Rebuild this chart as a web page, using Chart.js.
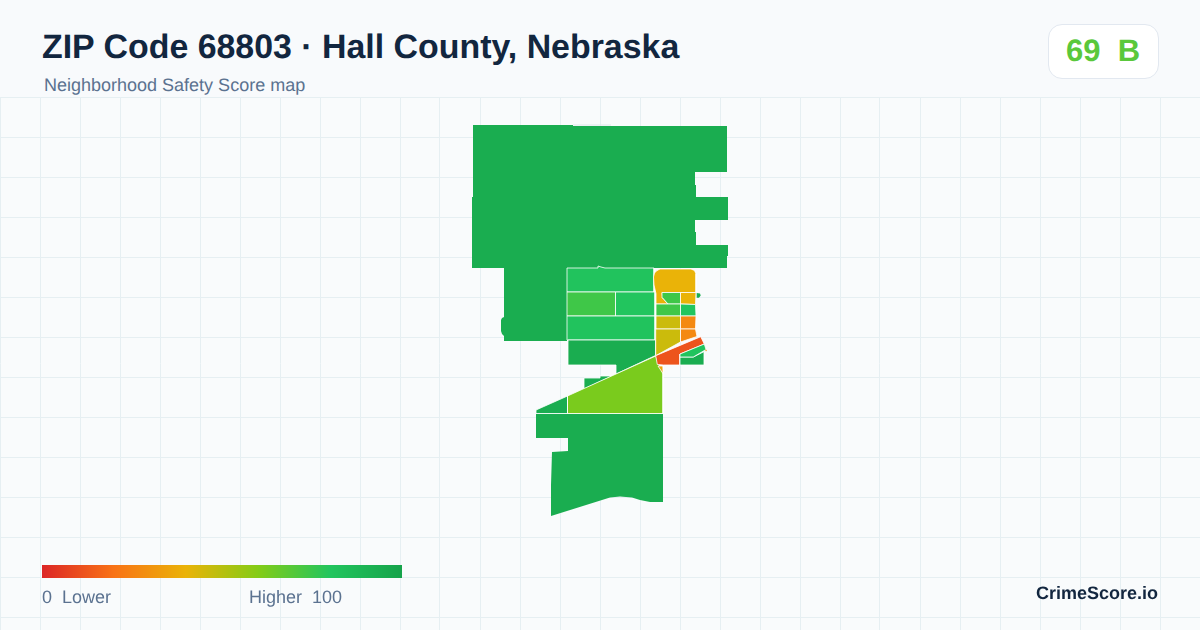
<!DOCTYPE html>
<html>
<head>
<meta charset="utf-8">
<title>ZIP Code 68803 · Hall County, Nebraska</title>
<script src="https://cdn.jsdelivr.net/npm/chart.js@4/dist/chart.umd.min.js"></script>
<style>
html,body{margin:0;padding:0;background:#f8fafc;}
body{width:1200px;height:630px;position:relative;overflow:hidden;font-family:"Liberation Sans",Arial,sans-serif;text-rendering:geometricPrecision;}
#wrap{position:absolute;left:0;top:97px;width:1200px;height:533px;background:#f9fbfc;}
.t{position:absolute;white-space:pre;}
#title{left:42px;top:27px;font-size:33.9px;line-height:40px;font-weight:700;color:#12263f;}
#sub{left:44px;top:75px;font-size:18px;line-height:20px;color:#5b7290;}
#badge{position:absolute;left:1048px;top:24px;width:109px;height:53px;background:#fff;border:1px solid #e2e8f0;border-radius:14px;}
#score{left:1066px;top:33px;font-size:31px;line-height:36px;font-weight:700;color:#5ac83c;}
#bar{position:absolute;left:42px;top:565px;width:360px;height:13px;background:linear-gradient(90deg,#dc2626 0%,#f97316 20%,#eab308 40%,#84cc16 60%,#22c55e 80%,#16a34a 100%);}
#lo{left:42px;top:587px;font-size:18px;line-height:20px;color:#5b7290;}
#hi{left:249px;top:587px;font-size:18px;line-height:20px;color:#5b7290;}
#brand{left:1036px;top:582px;font-size:18px;line-height:22px;font-weight:700;color:#12263f;}
</style>
</head>
<body>
<div id="wrap"><canvas id="c" width="1200" height="533"></canvas></div>
<div class="t" id="title">ZIP Code 68803 · Hall County, Nebraska</div>
<div class="t" id="sub">Neighborhood Safety Score map</div>
<div id="badge"></div>
<div class="t" id="score">69  B</div>
<div id="bar"></div>
<div class="t" id="lo">0  Lower</div>
<div class="t" id="hi">Higher  100</div>
<div class="t" id="brand">CrimeScore.io</div>
<script>
// Colour ramp of the score scale
const rampScores = [0, 20, 40, 60, 80, 100];
const rampColors = ['#dc2626', '#f97316', '#eab308', '#84cc16', '#22c55e', '#16a34a'];

// Tracts: outline in map units, score
const northBlock = [[473,125],[573,125],[573,126],[727,126],[727,172],[695,172],[695,185],[696,185],[696,197],[728,197],[728,220],[695,220],[695,232],[696,232],[696,245],[728,245],[728,256],[727,256],[727,268],[472,268],[472,197],[473,197]];
const westColumn = [[504,268],[567,268],[567,341],[536,341],[504,341],[504,336],[502,334],[501,331],[501,320],[502,318],[504,317]];
const rowOne = [[567,268],[598,268],[598,266],[601,267],[605,268],[654,268],[654,292],[567,292]];
const rowTwoWest = [[567,292],[615.5,292],[615.5,316],[567,316]];
const rowTwoEast = [[615.5,292],[655,292],[655,316],[615.5,316]];
const rowThree = [[567,316],[655,316],[655,340],[567,340]];
const rowFour = [[568,340],[655.5,340],[655.5,355.5],[616,374],[616,365],[568,365]];
const southStrip = [[584,378],[600,378],[600,376],[612,376],[584,389]];
const limeTract = [[655.7,356],[663,374],[663,413.5],[567.5,413.5],[567.5,396]];
const westWedge = [[536,410],[567.5,396],[567.5,413.5],[536,413.5]];
const southBlock = [[536,414],[663,414],[663,502],[650,502],[640,500],[632,497.5],[620,496.5],[610,497.5],[551,516],[551,485],[552,452],[568,451],[568,438],[536,438]];
const sliver = [[658,366],[663,366],[663.3,374]];
const yellowBlob = [[653.5,277],[654.5,273],[657,270.5],[660,269],[691,269],[694.5,270.5],[696,274],[696,292.5],[662,292.5],[662.7,298],[668,304],[656,304],[656,293.7],[654,285]];
const innerGreen = [[662,292.5],[680.5,292.5],[680.5,304],[668,304],[662.7,298]];
const innerYellow = [[680.5,292.5],[696,292.5],[695.5,304.5],[680.5,304]];
const midWest = [[656,304],[680.5,304],[680.5,316],[656,316]];
const midEast = [[680.5,304],[695.5,304.5],[696,316],[680.5,316]];
const oliveNorth = [[656,316],[680.5,316],[680.5,329],[656,329]];
const orangeNorth = [[680.5,316],[696,316],[695.5,329],[680.5,329]];
const oliveSouth = [[655.7,329],[680.5,329],[680.5,342],[655.7,355.7]];
const orangeSouth = [[680.5,329],[695.5,329],[697,336.5],[680.5,342]];
const redBand = [[655.7,355.7],[700.7,336.7],[704.3,344],[680,354],[680,365],[663.3,365],[657.3,364.5]];
const greenBand = [[680,354],[704.3,344],[706,349.5],[693.3,357],[680,357]];
const cornerBlock = [[680,357],[693.3,357],[704.3,351.5],[704.3,365],[680,365]];
const eastDot = [[696.7,293],[700,293.5],[700.7,295.5],[699,297.7],[696.7,297.7]];
const orangeTip = [[705,349.5],[707,350],[706,351.5]];
const northEdge = [[573,125],[611,125]];

const tractShapes = [northBlock, westColumn, rowOne, rowTwoWest, rowTwoEast, rowThree, rowFour, southStrip, limeTract, westWedge, southBlock, sliver, yellowBlob, innerGreen, innerYellow, midWest, midEast, oliveNorth, orangeNorth, oliveSouth, orangeSouth, redBand, cornerBlock, greenBand, eastDot, orangeTip];
const tractScores = [94, 94, 81, 74, 80, 81, 94, 94, 62, 94, 94, 35, 40, 74, 40, 74, 80, 46, 27, 46, 27, 12, 94, 81, 94, 30];
const unstroked = [northBlock, westColumn, southBlock, eastDot, orangeTip];

// Score → colour through the ramp
function hexRgb(h){return [1,3,5].map(i=>parseInt(h.substr(i,2),16));}
function scoreColor(s){
  let i=0; while(i<rampScores.length-2 && s>rampScores[i+1]) i++;
  const t=(s-rampScores[i])/(rampScores[i+1]-rampScores[i]);
  const a=hexRgb(rampColors[i]),b=hexRgb(rampColors[i+1]);
  return 'rgb('+a.map((v,k)=>Math.round(v+(b[k]-v)*t)).join(',')+')';
}

const gridX=[]; for(let v=0;v<=1200;v+=40) gridX.push(v);
const gridY=[]; for(let v=97;v<=630;v+=40) gridY.push(v);

const tractSets = tractShapes.map((shape,i)=>({
  data:shape.concat([shape[0]]).map(p=>({x:p[0],y:p[1]})),
  showLine:true,
  fill:'shape',
  tension:0,
  pointRadius:0,
  borderWidth:unstroked.includes(shape)?0:0.8,
  borderColor:'#ffffff',
  backgroundColor:scoreColor(tractScores[i]),
  order:tractShapes.length-i
}));
const edgeSet = {
  data:northEdge.map(p=>({x:p[0],y:p[1]})),
  showLine:true,fill:false,pointRadius:0,borderWidth:1,borderColor:'#dfe6ea',order:tractShapes.length+1
};

new Chart(document.getElementById('c'),{
  type:'scatter',
  data:{datasets:[edgeSet].concat(tractSets)},
  options:{
    responsive:false,animation:false,
    layout:{padding:0},
    plugins:{legend:{display:false},title:{display:false},tooltip:{enabled:false}},
    scales:{
      x:{type:'linear',min:0,max:1200,border:{display:false},grid:{color:'#e6eff2',lineWidth:1,drawTicks:false},ticks:{display:false},
         afterBuildTicks:a=>{a.ticks=gridX.map(v=>({value:v}));}},
      y:{type:'linear',min:97,max:630,reverse:true,border:{display:false},grid:{color:'#e6eff2',lineWidth:1,drawTicks:false},ticks:{display:false},
         afterBuildTicks:a=>{a.ticks=gridY.map(v=>({value:v}));}}
    }
  }
});
</script>
</body>
</html>
